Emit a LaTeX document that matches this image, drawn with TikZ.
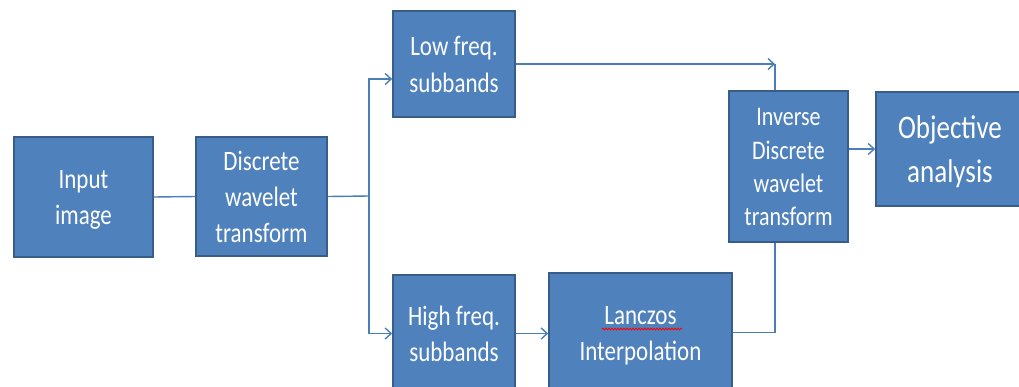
\documentclass[tikz,border=0pt]{standalone}
\usepackage{fontspec}
\setmainfont{Carlito}
\usetikzlibrary{arrows.meta,decorations.pathmorphing}
\definecolor{boxfill}{HTML}{4F81BD}
\definecolor{boxedge}{HTML}{385D8A}
\definecolor{conn}{HTML}{4A7EBB}
\newcommand{\btxt}[3]{\raisebox{-2.5pt}[\height][\depth]{\scalebox{1}[1.22]{\fontsize{#1}{#2}\selectfont\begin{tabular}{@{}c@{}}#3\end{tabular}}}}
\tikzset{
  blk/.style={draw=boxedge, fill=boxfill, line width=1.6pt, inner sep=0pt, text=white, align=center},
  conline/.style={draw=conn, line width=1.4pt},
  arr/.style={conline, -{Straight Barb[length=6pt,width=11pt,line width=1.4pt]}}
}
\begin{document}
\begin{tikzpicture}[x=1pt,y=-1pt]
\useasboundingbox (0,0) rectangle (1019,386);
\clip (0,0) rectangle (1019,386);
\fill[white] (0,0) rectangle (1019,386);
\node[blk, minimum width=139pt, minimum height=120pt] (in) at (83.5,197) {\btxt{23}{29.5}{Input\\image}};
\node[blk, minimum width=131pt, minimum height=119pt] (dwt) at (261.5,196.5) {\btxt{23}{29.5}{Discrete\\wavelet\\transform}};
\node[blk, minimum width=122pt, minimum height=106pt] (low) at (454,64) {\btxt{23}{30.5}{Low freq.\\subbands}};
\node[blk, minimum width=122pt, minimum height=117pt] (high) at (454,333.5) {\btxt{23}{30}{High freq.\\subbands}};
\node[blk, minimum width=183pt, minimum height=119pt] (lan) at (640.5,332.5) {\btxt{23}{30}{Lanczos\\Interpolation}};
\node[blk, minimum width=119pt, minimum height=151pt] (inv) at (788.5,166.5) {\btxt{22}{27.3}{Inverse\\Discrete\\wavelet\\transform}};
\node[blk, minimum width=148pt, minimum height=114pt] (obj) at (950,149) {\btxt{27}{36}{Objective\\analysis}};
% spell-check squiggle under Lanczos
\draw[red, line width=0.8pt, decorate, decoration={snake, amplitude=0.9pt, segment length=3pt}] (602,329) -- (682,329);
\coordinate (split) at (369,196);
\coordinate (col) at (775,63);
\draw[conline] (in.east) -- (dwt.west);
\draw[conline] (dwt.east) -- (split);
\draw[arr] (split) |- ([yshift=-15pt]low.west);
\draw[arr] (split) |- (high.west);
\draw[arr] (high.east) -- (high.east -| lan.west);
\draw[arr] (low.east) -- (low.east -| col);
\draw[conline] (low.east -| col) -- (col |- inv.north);
\draw[conline] (lan.east) -| (col |- inv.south);
\draw[arr] (inv.east |- obj.west) -- (obj.west);
\end{tikzpicture}
\end{document}
